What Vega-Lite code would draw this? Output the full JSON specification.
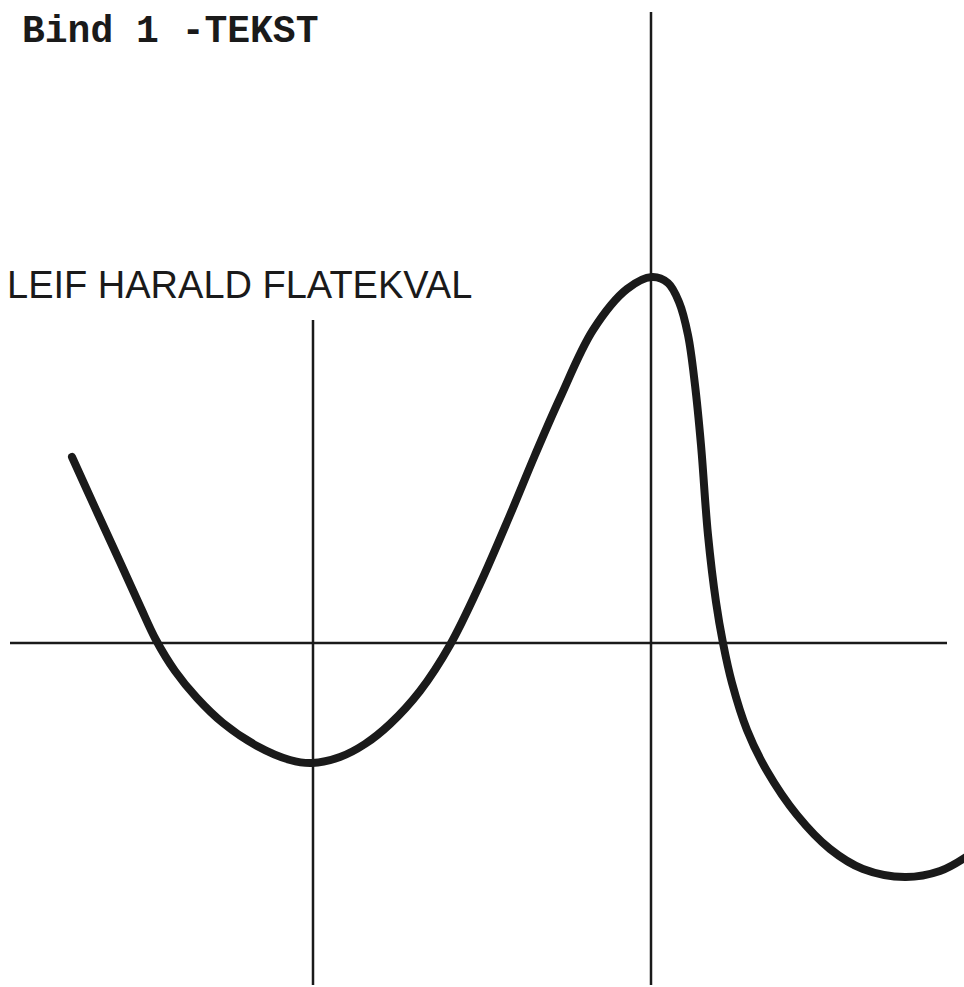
{
  "$schema": "https://vega.github.io/schema/vega-lite/v6.json",
  "width": 964,
  "height": 987,
  "autosize": {"type": "none"},
  "padding": 0,
  "background": "white",
  "config": {"view": {"stroke": null}},
  "datasets": {
    "curve": [
      {"x": 72, "y": 457}, {"x": 97, "y": 512}, {"x": 120, "y": 562}, {"x": 140, "y": 606},
      {"x": 156, "y": 640}, {"x": 175, "y": 671}, {"x": 197, "y": 698}, {"x": 223, "y": 723},
      {"x": 257, "y": 746}, {"x": 290, "y": 760}, {"x": 312, "y": 763}, {"x": 340, "y": 757},
      {"x": 365, "y": 744}, {"x": 390, "y": 724}, {"x": 420, "y": 691}, {"x": 450, "y": 645},
      {"x": 480, "y": 584}, {"x": 510, "y": 515}, {"x": 535, "y": 455}, {"x": 560, "y": 398},
      {"x": 593, "y": 330}, {"x": 627, "y": 289}, {"x": 652, "y": 277}, {"x": 668, "y": 283},
      {"x": 679, "y": 302}, {"x": 688, "y": 335}, {"x": 695, "y": 385}, {"x": 701, "y": 445},
      {"x": 708, "y": 535}, {"x": 716, "y": 602}, {"x": 723, "y": 643}, {"x": 732, "y": 683},
      {"x": 747, "y": 730}, {"x": 767, "y": 771}, {"x": 797, "y": 815}, {"x": 830, "y": 849},
      {"x": 863, "y": 869}, {"x": 905, "y": 877}, {"x": 940, "y": 871}, {"x": 966, "y": 857}
    ],
    "rules": [
      {"x": 10, "y": 643, "x2": 947, "y2": 643},
      {"x": 313, "y": 320, "x2": 313, "y2": 985},
      {"x": 651, "y": 12, "x2": 651, "y2": 985}
    ],
    "labels": [
      {"x": 22, "y": 42, "label": "Bind 1 -TEKST", "kind": "mono"},
      {"x": 7, "y": 298, "label": "LEIF HARALD FLATEKVAL", "kind": "sans"}
    ]
  },
  "layer": [
    {
      "data": {"name": "rules"},
      "mark": {"type": "rule", "color": "#1a1a1a", "strokeWidth": 2.5},
      "encoding": {
        "x": {"field": "x", "type": "quantitative", "scale": {"domain": [0, 964]}, "axis": null},
        "y": {"field": "y", "type": "quantitative", "scale": {"domain": [0, 987], "reverse": true}, "axis": null},
        "x2": {"field": "x2"},
        "y2": {"field": "y2"}
      }
    },
    {
      "data": {"name": "curve"},
      "mark": {"type": "line", "color": "#1a1a1a", "strokeWidth": 8, "interpolate": "catmull-rom", "strokeCap": "round", "clip": true},
      "encoding": {
        "x": {"field": "x", "type": "quantitative", "scale": {"domain": [0, 964]}, "axis": null},
        "y": {"field": "y", "type": "quantitative", "scale": {"domain": [0, 987], "reverse": true}, "axis": null}
      }
    },
    {
      "data": {"name": "labels"},
      "transform": [{"filter": "datum.kind == 'mono'"}],
      "mark": {"type": "text", "align": "left", "baseline": "alphabetic", "font": "Liberation Mono", "fontWeight": "bold", "fontSize": 38, "color": "#1a1a1a"},
      "encoding": {
        "x": {"field": "x", "type": "quantitative", "scale": {"domain": [0, 964]}, "axis": null},
        "y": {"field": "y", "type": "quantitative", "scale": {"domain": [0, 987], "reverse": true}, "axis": null},
        "text": {"field": "label"}
      }
    },
    {
      "data": {"name": "labels"},
      "transform": [{"filter": "datum.kind == 'sans'"}],
      "mark": {"type": "text", "align": "left", "baseline": "alphabetic", "font": "Liberation Sans", "fontSize": 38, "color": "#1a1a1a"},
      "encoding": {
        "x": {"field": "x", "type": "quantitative", "scale": {"domain": [0, 964]}, "axis": null},
        "y": {"field": "y", "type": "quantitative", "scale": {"domain": [0, 987], "reverse": true}, "axis": null},
        "text": {"field": "label"}
      }
    }
  ]
}
